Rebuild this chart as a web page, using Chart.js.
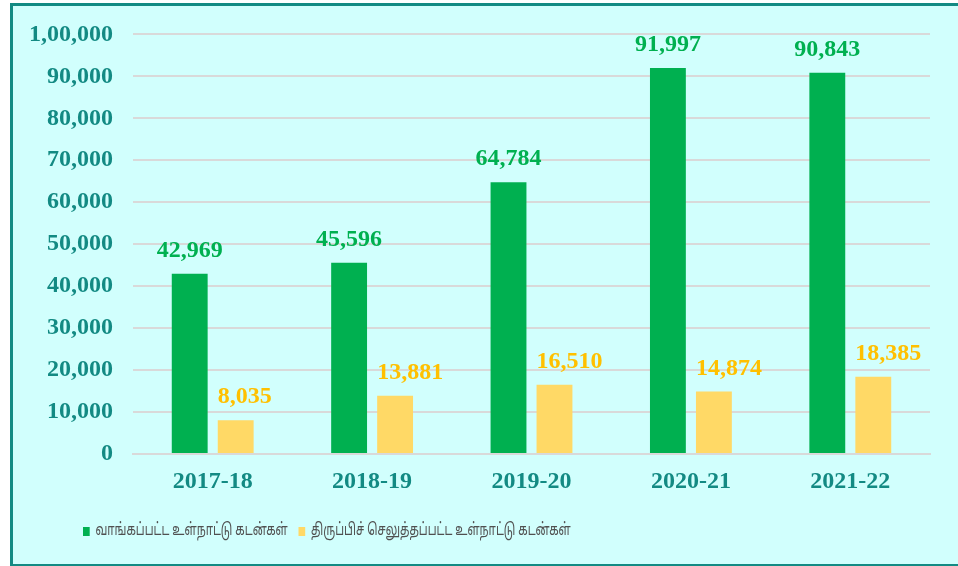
<!DOCTYPE html>
<html>
<head>
<meta charset="utf-8">
<script src="https://cdn.jsdelivr.net/npm/chart.js@4.4.0/dist/chart.umd.min.js"></script>
<style>
  html, body { margin: 0; padding: 0; background: #ffffff; overflow: hidden; }
  #frame {
    position: absolute; left: 10px; top: 3px; width: 970px; height: 558px;
    border: 3px solid #138A83; background: #D1FFFD;
  }
  #wrap { position: absolute; left: 0; top: 0; width: 958px; height: 566px; }
</style>
</head>
<body>
<div id="frame"></div>
<div id="wrap"><canvas id="chart" width="958" height="566"></canvas></div>
<script>
document.addEventListener("DOMContentLoaded", function () {
  // chart data
  const years = ["2017-18", "2018-19", "2019-20", "2020-21", "2021-22"];
  const borrowed = [42969, 45596, 64784, 91997, 90843];
  const repaid = [8035, 13881, 16510, 14874, 18385];
  const seriesNames = ["வாங்கப்பட்ட உள்நாட்டு கடன்கள்", "திருப்பிச் செலுத்தப்பட்ட உள்நாட்டு கடன்கள்"];
  const yTickLabels = ["0", "10,000", "20,000", "30,000", "40,000", "50,000",
                       "60,000", "70,000", "80,000", "90,000", "1,00,000"];

  const teal = '#138A83';
  const serif = '"Liberation Serif", "Times New Roman", serif';
  const tamil = '"Noto Sans Tamil", "Latha", "Noto Sans", sans-serif';
  const legendX = 83;      // where the first legend box starts
  const legendSqueeze = 0.67; // original Tamil font is much narrower

  // value labels above bars (green centred, yellow starting at bar's left edge)
  const barLabels = {
    id: 'barLabels',
    afterDatasetsDraw(chart) {
      const ctx = chart.ctx;
      ctx.save();
      ctx.font = 'bold 24px ' + serif;
      ctx.textBaseline = 'alphabetic';
      chart.data.datasets.forEach((ds, di) => {
        chart.getDatasetMeta(di).data.forEach((bar, i) => {
          const txt = ds.data[i].toLocaleString('en-US');
          ctx.fillStyle = ds.labelColor;
          if (di === 0) {
            ctx.textAlign = 'center';
            ctx.fillText(txt, bar.x, bar.y - 17);
          } else {
            ctx.textAlign = 'left';
            ctx.fillText(txt, bar.x - bar.width / 2, bar.y - 17);
          }
        });
      });
      ctx.restore();
    }
  };

  // move the legend left and narrow it a bit
  const legendShift = {
    id: 'legendShift',
    afterLayout(chart) {
      const lg = chart.legend;
      const pad = lg.options.labels.padding;
      lg.left = legendX - pad;
      if (!lg._squeezed) {
        const draw = lg.draw;
        lg.draw = function () {
          const c = chart.ctx;
          c.save();
          c.translate(legendX, 0);
          c.scale(legendSqueeze, 1);
          c.translate(-legendX, 0);
          draw.call(this);
          c.restore();
        };
        lg._squeezed = true;
      }
    }
  };

  const ctx = document.getElementById('chart').getContext('2d');
  new Chart(ctx, {
    type: 'bar',
    data: {
      labels: years,
      datasets: [
        {
          label: seriesNames[0],
          data: borrowed,
          backgroundColor: '#00B050',
          labelColor: '#00B050',
          categoryPercentage: 0.577,
          barPercentage: 0.78
        },
        {
          label: seriesNames[1],
          data: repaid,
          backgroundColor: '#FFD966',
          labelColor: '#FFC000',
          categoryPercentage: 0.577,
          barPercentage: 0.78
        }
      ]
    },
    options: {
      responsive: false,
      animation: false,
      layout: { padding: { left: 0, right: 28, top: 33, bottom: 16 } },
      scales: {
        x: {
          grid: { display: false },
          border: { display: true, color: '#D9D9D9', width: 2 },
          ticks: {
            color: teal,
            padding: 5,
            font: { family: serif, size: 24, weight: 'bold' }
          },
          afterFit(scale) { scale.height = 53; }
        },
        y: {
          min: 0,
          max: 100000,
          grid: { color: '#D9D9D9', lineWidth: 2, drawTicks: false },
          border: { display: false },
          ticks: {
            stepSize: 10000,
            padding: 20,
            color: teal,
            font: { family: serif, size: 24, weight: 'bold' },
            callback: (v, i) => yTickLabels[i]
          },
          afterFit(scale) { scale.width = 133; }
        }
      },
      plugins: {
        tooltip: { enabled: false },
        legend: {
          position: 'bottom',
          align: 'start',
          labels: {
            boxWidth: 10,
            boxHeight: 9,
            padding: 16,
            color: '#505050',
            font: { family: tamil, size: 17 }
          }
        }
      }
    },
    plugins: [barLabels, legendShift]
  });
});
</script>
</body>
</html>
